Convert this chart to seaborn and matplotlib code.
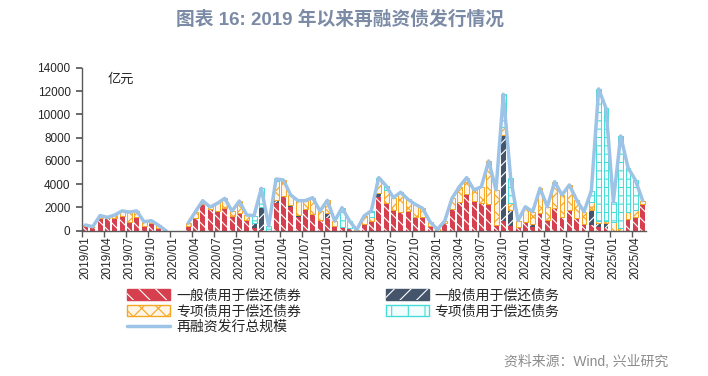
import numpy as np
import pandas as pd
import seaborn as sns
import matplotlib.pyplot as plt
from matplotlib.patches import Patch
from matplotlib.lines import Line2D
from matplotlib.legend_handler import HandlerTuple

# months 2019/01 .. 2025/05
months = pd.period_range('2019-01', '2025-05', freq='M').strftime('%Y/%m').tolist()
nan = np.nan

# 亿元
gen_bond = [400, 300, 1060, 1120, 1120, 1230, 770, 1170, 400, 660, 260, 0,
            0, 0, 430, 1120, 2290, 1890, 1720, 1920, 1260, 1490, 950, 200,
            100, 0, 2350, 2980, 2030, 1150, 1830, 1400, 920, 1060, 340, 200,
            260, 0, 570, 830, 2920, 2410, 1780, 1630, 1690, 1200, 1150, 400,
            0, 700, 1830, 2490, 3150, 2580, 2350, 2260, 490, 860, 430, 200,
            720, 320, 1430, 950, 1980, 1170, 1780, 1120, 570, 490, 290, 200,
            0, 0, 1000, 1150, 2290]
gen_debt = [0, 0, 0, 0, 0, 0, 0, 0, 0, 0, 0, 0,
            0, 0, 0, 0, 0, 0, 0, 0, 0, 0, 0, 500,
            1960, 0, 290, 0, 150, 200, 0, 0, 0, 430, 60, 100,
            0, 0, 0, 0, 290, 0, 0, 0, 0, 0, 0, 0,
            0, 0, 0, 0, 0, 0, 0, 0, 0, 7360, 1350, 140,
            0, 260, 100, 0, 0, 0, 0, 0, 0, 1290, 340, 430,
            0, 0, 0, 0, 0]
spe_bond = [90, 40, 240, 30, 230, 470, 830, 530, 370, 200, 200, 0,
            0, 0, 200, 510, 290, 140, 630, 860, 430, 1060, 400, 0,
            0, 0, 1600, 1380, 890, 1230, 750, 1440, 770, 1120, 430, 0,
            0, 60, 690, 370, 1150, 1090, 1060, 1670, 1000, 1060, 770, 370,
            110, 130, 950, 1290, 1410, 920, 1430, 3730, 3010, 720, 570, 520,
            1340, 1050, 2110, 1110, 2230, 1900, 2150, 1520, 1060, 720, 230, 230,
            770, 200, 630, 630, 290]
spe_debt = [0, 0, 0, 0, 0, 0, 0, 0, 0, 0, 0, 0,
            0, 0, 0, 0, 0, 0, 0, 0, 0, 0, 0, 590,
            1580, 400, 200, 0, 0, 0, 0, 0, 0, 0, 0, 1680,
            600, 0, 0, 520, 200, 370, 0, 0, 0, 0, 0, 0,
            0, 0, 0, 0, 0, 0, 0, 0, 0, 2780, 2150, 0,
            0, 0, 0, 0, 0, 0, 0, 0, 0, 920, 11320, 9660,
            1720, 7940, 3790, 2580, 0]
total = [490, 340, 1300, 1150, 1350, 1700, 1600, 1700, 770, 860, 460, 0,
         nan, nan, 630, 1630, 2580, 2030, 2350, 2780, 1690, 2550, 1350, 1290,
         3640, 400, 4440, 4360, 3070, 2580, 2580, 2840, 1690, 2610, 830, 1980,
         860, 60, 1260, 1720, 4560, 3870, 2840, 3300, 2690, 2260, 1920, 770,
         110, 830, 2780, 3780, 4560, 3500, 3780, 5990, 3500, 11720, 4500, 860,
         2060, 1630, 3640, 2060, 4210, 3070, 3930, 2640, 1630, 3420, 12180, 10520,
         2490, 8140, 5420, 4360, 2580]

labels = ['一般债用于偿还债券', '一般债用于偿还债务', '专项债用于偿还债券',
          '专项债用于偿还债务', '再融资发行总规模']

df = pd.DataFrame({'pos': np.arange(len(months)), 'month': months,
                   'gen_bond': gen_bond, 'gen_debt': gen_debt,
                   'spe_bond': spe_bond, 'spe_debt': spe_debt, 'total': total})
# the line breaks where there is no data
df['seg'] = df['total'].isna().cumsum()

sns.set_theme(style='ticks')
plt.rcParams['font.family'] = ['Liberation Sans', 'Noto Sans CJK SC']
plt.rcParams['hatch.linewidth'] = 0.8

fig = plt.figure(figsize=(7.08, 3.76), dpi=100)
ax = fig.add_axes([0.1154, 0.3864, 0.7975, 0.4335])

RED, NAVY, ORANGE, CYAN, LINE = '#D6404E', '#44546A', '#F5A623', '#45DCD8', '#9DC3E6'

# (column, face, hatch colour, hatch, edge width)
layers = [
    ('gen_bond', RED, 'white', '\\\\\\', 0),
    ('gen_debt', NAVY, 'white', '///', 0),
    ('spe_bond', '#FFF5E6', ORANGE, 'xx', 0.7),
    ('spe_debt', '#F2FDFD', CYAN, '--', 0.7),
]

bottom = np.zeros(len(df))
for col, face, hcol, hatch, lw in layers:
    vals = df[col].to_numpy(float)
    for rep in range(2 if lw == 0 else 1):
        n0 = len(ax.patches)
        sns.barplot(data=df, x='pos', y=col, native_scale=True, bottom=bottom,
                    color=face, saturation=1, width=0.68, errorbar=None,
                    linewidth=0, ax=ax)
        for p, v in zip(ax.patches[n0:], vals):
            if v <= 0:
                p.set_visible(False)
                continue
            if lw == 0 and rep == 0:
                p.set_facecolor(face)
                p.set_edgecolor(face)
                p.set_linewidth(0)
            elif lw == 0:
                p.set_facecolor('none')
                p.set_edgecolor(hcol)
                p.set_linewidth(0)
                p.set_hatch(hatch)
            else:
                p.set_facecolor(face)
                p.set_edgecolor(hcol)
                p.set_linewidth(lw)
                p.set_hatch(hatch)
    bottom = bottom + vals

sns.lineplot(data=df.dropna(subset=['total']), x='pos', y='total', units='seg',
             estimator=None, color=LINE, linewidth=2.5, ax=ax)

ax.set_xlim(-0.5, len(months) - 0.5)
ax.set_ylim(0, 14000)
ax.set_yticks(np.arange(0, 14001, 2000))
ax.set_yticklabels([str(v) for v in range(0, 14001, 2000)], fontsize=8.5)
ax.set_xticks(df['pos'][::3])
ax.set_xticklabels(months[::3], rotation=90, fontsize=8.5)
ax.set_xticks(np.arange(-0.5, len(months), 3), minor=True)
ax.tick_params(axis='x', which='major', length=0, pad=4)
ax.tick_params(axis='x', which='minor', length=4, color='#595959', direction='out')
ax.tick_params(axis='y', length=4, color='#595959', direction='out', pad=4)
ax.set_xlabel('')
ax.set_ylabel('')
sns.despine(ax=ax)
for s in ['left', 'bottom']:
    ax.spines[s].set_color('#595959')
    ax.spines[s].set_linewidth(1)

ax.text(0.045, 0.93, '亿元', transform=ax.transAxes, fontsize=9.5, ha='left', va='center')

fig.text(0.48, 0.947, '图表 16: 2019 年以来再融资债发行情况', ha='center', va='center',
         fontsize=13.5, fontweight='bold', color='#7B8BA6')
fig.text(0.944, 0.037, '资料来源：Wind, 兴业研究', ha='right', va='center',
         fontsize=10, color='#8C8C8C')

h_red = (Patch(facecolor=RED, edgecolor=RED, lw=1),
         Patch(facecolor='none', edgecolor='white', hatch='\\\\', lw=0))
h_navy = (Patch(facecolor=NAVY, edgecolor=NAVY, lw=1),
          Patch(facecolor='none', edgecolor='white', hatch='//', lw=0))
h_or = Patch(facecolor='#FFF5E6', edgecolor=ORANGE, hatch='xx', lw=1)
h_cy = Patch(facecolor='#F2FDFD', edgecolor=CYAN, hatch='|', lw=1)
h_ln = Line2D([0], [0], color=LINE, lw=2.5)

handles = [h_red, h_or, h_ln, h_navy, h_cy]
leg_labels = [labels[0], labels[2], labels[4], labels[1], labels[3]]
fig.legend(handles, leg_labels, ncol=2, loc='upper left',
           bbox_to_anchor=(0.18, 0.132, 0.61, 0.1), mode='expand',
           frameon=False, fontsize=10, handlelength=3.1, handleheight=0.85,
           labelspacing=0.12, handletextpad=0.4, borderaxespad=0, borderpad=0,
           handler_map={tuple: HandlerTuple(ndivide=1)})

fig.savefig('out.png', dpi=100)
